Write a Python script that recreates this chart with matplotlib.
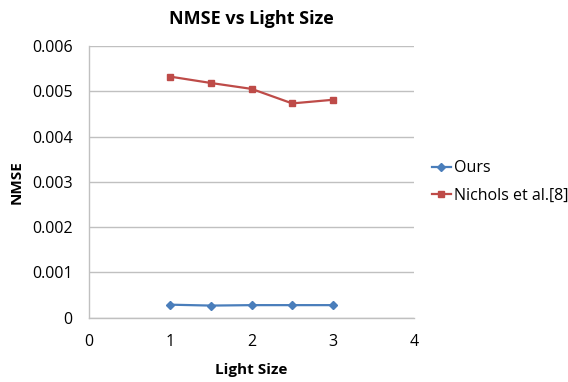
import matplotlib
matplotlib.use("Agg")
import matplotlib.pyplot as plt

plt.rcParams["font.family"] = ["Open Sans", "DejaVu Sans"]

light_size = [1, 1.5, 2, 2.5, 3]
ours = [0.00029, 0.00027, 0.00028, 0.00028, 0.00028]
nichols = [0.00532, 0.00518, 0.00505, 0.00473, 0.00481]

x_ticks = [0, 1, 2, 3, 4]
y_ticks = [0, 0.001, 0.002, 0.003, 0.004, 0.005, 0.006]
y_labels = ["0", "0.001", "0.002", "0.003", "0.004", "0.005", "0.006"]

COLOR_OURS = "#4A7EBB"
COLOR_NICHOLS = "#BE4B48"
GRID = "#C0C0C0"

fig = plt.figure(figsize=(5.68, 3.82), dpi=100)
ax = fig.add_axes([0.157, 0.168, 0.572, 0.712])

ax.plot(light_size, ours, color=COLOR_OURS, marker="D", markersize=4.5,
        linewidth=1.6, label="Ours")
ax.plot(light_size, nichols, color=COLOR_NICHOLS, marker="s", markersize=5,
        linewidth=1.6, label="Nichols et al.[8]")

ax.set_xlim(0, 4)
ax.set_ylim(0, 0.006)
ax.set_xticks(x_ticks)
ax.set_yticks(y_ticks)
ax.set_yticklabels(y_labels)
ax.tick_params(axis="x", length=0, labelsize=11.5, pad=12)
ax.tick_params(axis="y", length=0, labelsize=11.5, pad=12)
ax.grid(axis="y", color=GRID, linewidth=1)
ax.set_axisbelow(True)

for side in ["top", "right"]:
    ax.spines[side].set_visible(False)
for side in ["left", "bottom"]:
    ax.spines[side].set_color(GRID)
    ax.spines[side].set_linewidth(1)

ax.set_xlabel("Light Size", fontsize=11, fontweight="bold", labelpad=9)
ax.set_ylabel("NMSE", fontsize=11, fontweight="bold", labelpad=6)
ax.set_title("NMSE vs Light Size", fontsize=13, fontweight="bold", pad=16)

ax.legend(loc="center left", bbox_to_anchor=(1.01, 0.5), frameon=False,
          fontsize=11.5, handlelength=1.2, handletextpad=0.2, labelspacing=0.7)

fig.savefig("out.png", dpi=100)
